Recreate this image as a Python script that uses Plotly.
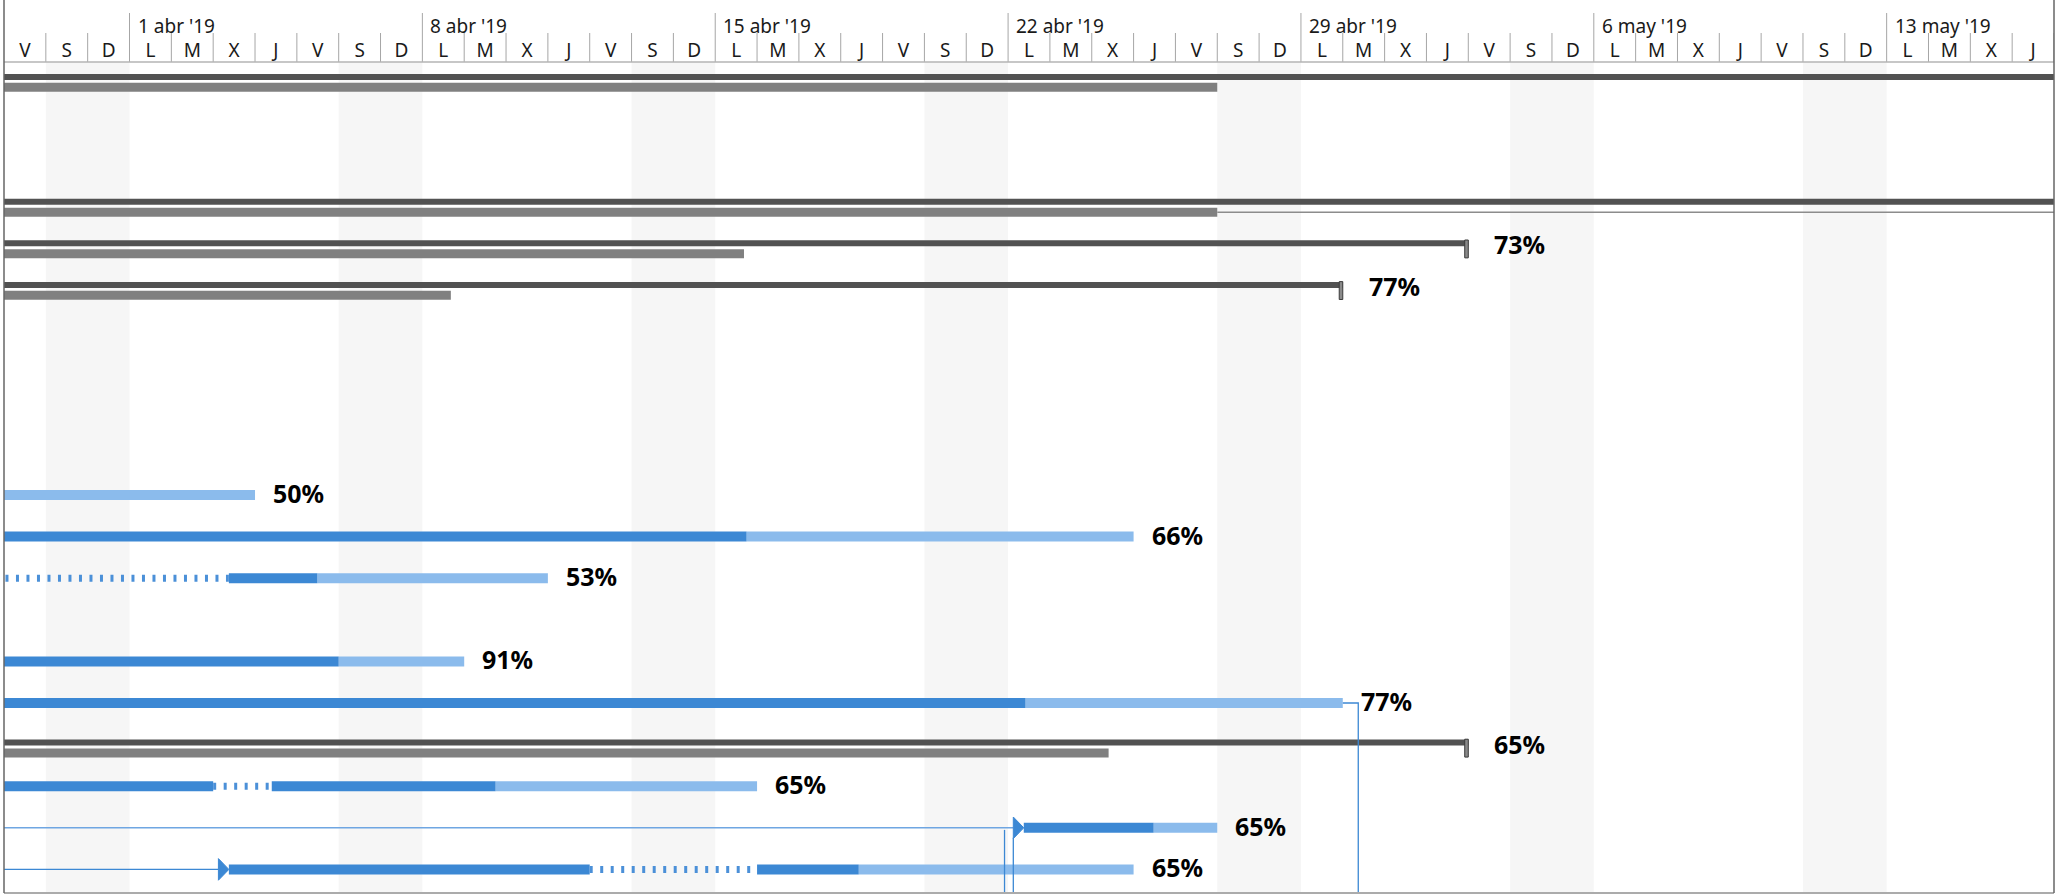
import pandas as pd
import plotly.graph_objects as go

# visible window of the timescale
view_start = "2019-03-29"
view_end = "2019-05-17"
off_left = "2019-03-20"
off_right = "2019-05-25"

day_letters = ["L", "M", "X", "J", "V", "S", "D"]
week_starts = ["2019-04-01", "2019-04-08", "2019-04-15", "2019-04-22",
               "2019-04-29", "2019-05-06", "2019-05-13"]
week_labels = ["1 abr '19", "8 abr '19", "15 abr '19", "22 abr '19",
               "29 abr '19", "6 may '19", "13 may '19"]

# summary rows: dark summary bar + grey baseline
summary_rows = [1, 4, 5, 6, 17]
summary_end = [off_right, off_right, "2019-05-03", "2019-04-30", "2019-05-03"]
baseline_end = ["2019-04-27", "2019-04-27", "2019-04-15 16:30", "2019-04-08 16:20", "2019-04-24 09:40"]
summary_pct = ["", "", "73%", "77%", "65%"]

slack_rows = [4]
slack_start = ["2019-04-27"]
slack_end = [off_right]

# task rows: completed part, remaining part, splits
done_rows = [12, 13, 15, 16, 18, 18, 19, 20, 20]
done_start = [off_left, "2019-04-03 09:00", off_left, off_left, off_left,
              "2019-04-04 09:36", "2019-04-22 09:00", "2019-04-03 09:00", "2019-04-16"]
done_end = ["2019-04-15 18:00", "2019-04-05 11:45", "2019-04-06", "2019-04-22 10:00", "2019-04-03",
            "2019-04-09 18:00", "2019-04-25 11:30", "2019-04-12", "2019-04-18 10:20"]

rem_rows = [11, 12, 13, 15, 16, 18, 19, 20]
rem_start = [off_left, "2019-04-15 18:00", "2019-04-05 11:45", "2019-04-06", "2019-04-22 10:00",
             "2019-04-09 18:00", "2019-04-25 11:30", "2019-04-18 10:20"]
rem_end = ["2019-04-04", "2019-04-25", "2019-04-11", "2019-04-09", "2019-04-30",
           "2019-04-16", "2019-04-27", "2019-04-25"]
task_pct = ["50%", "66%", "53%", "91%", "77%", "65%", "65%", "65%"]

split_rows = [13, 18, 20]
split_start = [off_left, "2019-04-03", "2019-04-12"]
split_end = ["2019-04-03 09:00", "2019-04-04 09:36", "2019-04-16"]

# links entering tasks (row, task start) and leaving (row, task end)
link_in_rows = [19, 20]
link_in_start = ["2019-04-22 09:00", "2019-04-03 09:00"]
link_out_rows = [16]
link_out_end = ["2019-04-30"]

DARK = "#525252"
GREY = "#808080"
BLUE = "#3c88d4"
LIGHT = "#8bbbec"
FONT = "Noto Sans"

day = pd.Timedelta(days=1)


def segments(rows, starts, ends, dy=0.0):
    xs, ys = [], []
    for r, s, e in zip(rows, starts, ends):
        xs += [s, e, None]
        ys += [r + dy, r + dy, None]
    return xs, ys


def line_trace(xs, ys, color, width, dash=None):
    return go.Scatter(x=xs, y=ys, mode="lines", hoverinfo="skip", showlegend=False,
                      line=dict(color=color, width=width, dash=dash))


fig = go.Figure()

# summary + baseline bars
x, y = segments(summary_rows, [off_left] * len(summary_rows), summary_end, -0.05)
fig.add_trace(line_trace(x, y, DARK, 6))
x, y = segments(summary_rows, [off_left] * len(summary_rows), baseline_end, 0.2)
fig.add_trace(line_trace(x, y, GREY, 9))
x, y = segments(slack_rows, slack_start, slack_end, 0.2)
fig.add_trace(line_trace(x, y, "#8c8c8c", 1.5))

# task bars
x, y = segments(rem_rows, rem_start, rem_end)
fig.add_trace(line_trace(x, y, LIGHT, 10))
x, y = segments(done_rows, done_start, done_end)
fig.add_trace(line_trace(x, y, BLUE, 10))
x, y = segments(split_rows, split_start, split_end)
fig.add_trace(line_trace(x, y, "#4b90d8", 7, dash="3px,7.5px"))

# links
for r, s in zip(link_in_rows, link_in_start):
    s = pd.Timestamp(s)
    base = s - 0.25 * day
    fig.add_trace(line_trace([off_left, base], [r, r], BLUE if r == 20 else "#6fa6e2", 1.4))
    fig.add_trace(go.Scatter(x=[base, s, base, base], y=[r - 0.26, r, r + 0.26, r - 0.26],
                             mode="lines", fill="toself", fillcolor=BLUE, hoverinfo="skip",
                             showlegend=False, line=dict(color=BLUE, width=1)))
    if r == 19:
        fig.add_trace(line_trace([s - 0.46 * day, s - 0.46 * day], [21, r + 0.05], BLUE, 1.3))
        fig.add_trace(line_trace([base, base], [r + 0.24, 21], BLUE, 1.3))

for r, e in zip(link_out_rows, link_out_end):
    e = pd.Timestamp(e)
    fig.add_trace(line_trace([e, e + 0.37 * day, e + 0.37 * day], [r, r, 21], BLUE, 1.3))

shapes = []

# weekend shading
for d in pd.date_range(view_start, view_end):
    if d.weekday() == 5:
        shapes.append(dict(type="rect", xref="x", yref="paper", x0=d, x1=d + 2 * day,
                           y0=0, y1=1, fillcolor="#f6f6f6", line_width=0, layer="below"))

# summary end caps
for r, e, p in zip(summary_rows, summary_end, summary_pct):
    if p:
        e = pd.Timestamp(e)
        shapes.append(dict(type="rect", xref="x", yref="y", x0=e - 0.085 * day, x1=e,
                           y0=r - 0.13, y1=r + 0.3, fillcolor="#8a8a8a",
                           line=dict(color="#3a3a3a", width=1)))

# header grid
plot_h = 896 - 62 - 3
for d in pd.date_range("2019-03-30", view_end):
    top = 49 if d.weekday() == 0 else 29
    shapes.append(dict(type="line", xref="x", yref="paper", x0=d, x1=d,
                       y0=1, y1=1 + top / plot_h, line=dict(color="#a6a6a6", width=1)))
shapes.append(dict(type="line", xref="paper", yref="paper", x0=0, x1=1, y0=1, y1=1,
                   line=dict(color="#b4b4b4", width=1.5)))
shapes.append(dict(type="line", xref="paper", yref="paper", x0=0, x1=1, y0=0, y1=0,
                   line=dict(color="#ababab", width=2)))
for xp in (0, 1):
    shapes.append(dict(type="line", xref="paper", yref="paper", x0=xp, x1=xp,
                       y0=0, y1=1 + 62 / plot_h, line=dict(color="#666666", width=1.5)))

annotations = []
for w, t in zip(week_starts, week_labels):
    annotations.append(dict(x=w, y=1, xref="x", yref="paper", text=t, showarrow=False,
                            xanchor="left", yanchor="middle", xshift=6, yshift=36,
                            font=dict(family=FONT, size=19, color="#1a1a1a")))

for r, e, p in zip(summary_rows, summary_end, summary_pct):
    if p:
        annotations.append(dict(x=e, y=r, xref="x", yref="y", text="<b>%s</b>" % p,
                                showarrow=False, xanchor="left", yanchor="middle", xshift=24, yshift=1,
                                font=dict(family=FONT, size=25, color="#000000")))
for r, e, p in zip(rem_rows, rem_end, task_pct):
    annotations.append(dict(x=e, y=r, xref="x", yref="y", text="<b>%s</b>" % p,
                            showarrow=False, xanchor="left", yanchor="middle", xshift=16, yshift=2,
                            font=dict(family=FONT, size=25, color="#000000")))

days = pd.date_range(view_start, periods=49)
fig.update_layout(
    width=2060,
    height=896,
    margin=dict(l=4, r=6, t=62, b=3),
    paper_bgcolor="white",
    plot_bgcolor="white",
    showlegend=False,
    shapes=shapes,
    annotations=annotations,
    xaxis=dict(
        type="date",
        range=[view_start, view_end],
        side="top",
        tickvals=days + pd.Timedelta(hours=12),
        ticktext=[day_letters[d.weekday()] for d in days],
        tickfont=dict(family=FONT, size=19, color="#1a1a1a"),
        ticks="",
        showgrid=False,
        zeroline=False,
        showline=False,
        automargin=False,
    ),
    yaxis=dict(
        range=[20.567, 0.591],
        showticklabels=False,
        showgrid=False,
        zeroline=False,
        showline=False,
        automargin=False,
    ),
)

fig.write_html("out.html", config={"displayModeBar": False},
               post_script="document.body.style.margin='0';")
